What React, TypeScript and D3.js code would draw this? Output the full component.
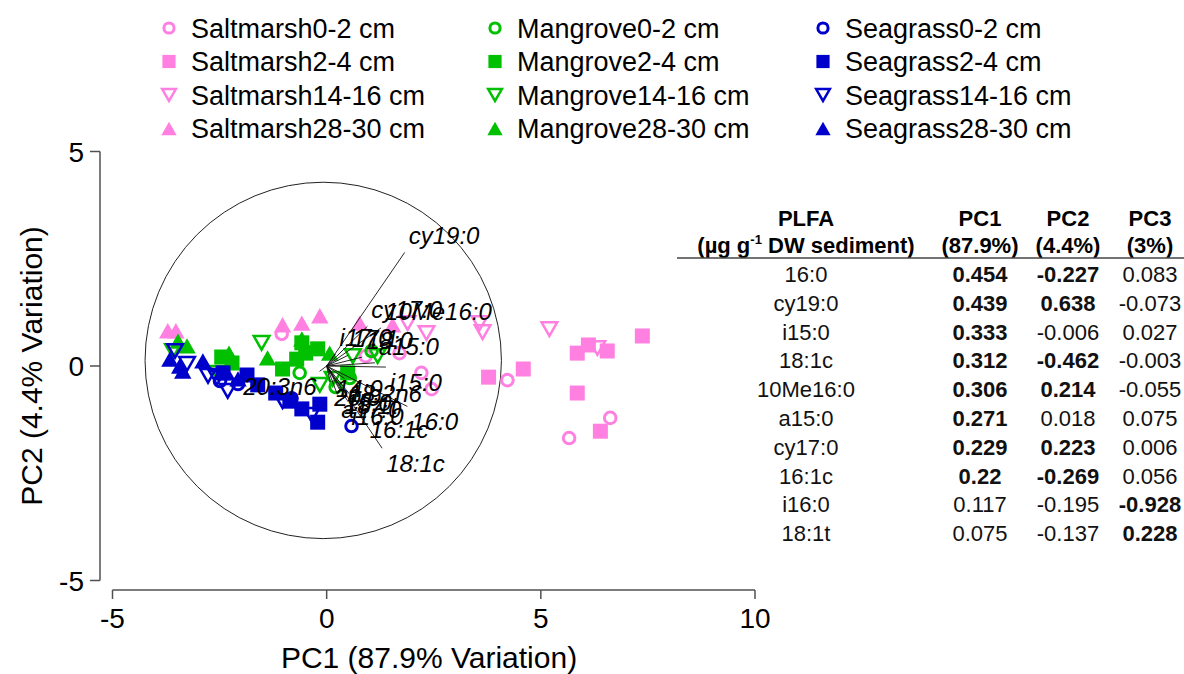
import React from "react";
import * as d3 from "d3";

const W = 1184;
const H = 674;

const habitats = ["Saltmarsh", "Mangrove", "Seagrass"];
const depths = ["0-2 cm", "2-4 cm", "14-16 cm", "28-30 cm"];
const habitatColors = ["#FF80E0", "#00C000", "#0000CC"];
const depthShapes = ["circle", "square", "triDown", "triUp"];

// PC scores [PC1, PC2]
const saltmarsh0_2 = [[-1.05, 0.75], [0.91, 0.23], [1.7, 0.3], [2.21, -0.16], [2.45, -0.54], [4.22, -0.33], [5.66, -1.68], [6.62, -1.21]];
const saltmarsh2_4 = [[3.78, -0.26], [4.59, -0.07], [5.85, 0.3], [6.11, 0.49], [6.55, 0.35], [7.37, 0.7], [5.85, -0.63], [6.39, -1.52]];
const saltmarsh14_16 = [[1.89, 1.0], [2.33, 0.77], [3.57, 1.0], [3.64, 0.79], [5.2, 0.86], [6.32, 0.42]];
const saltmarsh28_30 = [[-3.71, 0.82], [-3.52, 0.82], [-1.03, 0.96], [-0.58, 1.0], [-0.16, 1.17], [0.77, 1.0], [1.54, 0.96]];
const mangrove0_2 = [[-0.63, -0.16], [0.54, -0.28], [1.05, 0.35], [0.21, -0.49]];
const mangrove2_4 = [[-2.45, 0.21], [-2.21, 0.07], [-1.03, -0.07], [-0.7, 0.16], [-0.58, 0.54], [-0.49, 0.3], [0.49, -0.16], [-0.21, 0.4]];
const mangrove14_16 = [[-3.59, 0.35], [-2.54, -0.16], [-1.52, 0.54], [-0.16, -0.44], [0.61, 0.23], [1.19, 0.23], [0.14, -0.3]];
const mangrove28_30 = [[-3.47, 0.58], [-3.26, 0.47], [-2.28, 0.3], [-1.38, 0.19], [-0.58, 0.63], [0.07, 0.3]];
const seagrass0_2 = [[-2.49, -0.35], [-2.07, -0.42], [-0.82, -0.75], [0.58, -1.4]];
const seagrass2_4 = [[-2.42, -0.16], [-1.86, -0.21], [-1.61, -0.44], [-1.19, -0.63], [-0.86, -0.82], [-0.58, -1.0], [-0.16, -0.89], [-0.21, -1.31]];
const seagrass14_16 = [[-3.54, 0.35], [-3.26, 0.05], [-2.77, -0.23], [-2.56, -0.28], [-2.31, -0.58], [-1.03, -0.82], [-0.35, -1.14]];
const seagrass28_30 = [[-3.66, 0.16], [-3.43, 0.0], [-3.36, -0.12], [-2.89, 0.12], [-2.33, -0.16], [-2.07, -0.3]];

const scoreSets = [
  [saltmarsh0_2, saltmarsh2_4, saltmarsh14_16, saltmarsh28_30],
  [mangrove0_2, mangrove2_4, mangrove14_16, mangrove28_30],
  [seagrass0_2, seagrass2_4, seagrass14_16, seagrass28_30],
];

// Table loadings
const plfaNames = ["16:0", "cy19:0", "i15:0", "18:1c", "10Me16:0", "a15:0", "cy17:0", "16:1c", "i16:0", "18:1t"];
const pc1Loadings = [0.454, 0.439, 0.333, 0.312, 0.306, 0.271, 0.229, 0.22, 0.117, 0.075];
const pc2Loadings = [-0.227, 0.638, -0.006, -0.462, 0.214, 0.018, 0.223, -0.269, -0.195, -0.137];
const pc3Loadings = [0.083, -0.073, 0.027, -0.003, -0.055, 0.075, 0.006, 0.056, -0.928, 0.228];

// Other PLFAs shown only in the biplot (small loadings)
const extraNames = ["20:3n6", "i17:0", "17:1", "14:0", "15:0", "20:0", "18:2n6", "a17:0", "18:0"];
const extraPC1 = [-0.04, 0.05, 0.12, 0.03, 0.08, 0.02, 0.1, 0.06, 0.2];
const extraPC2 = [-0.03, 0.067, 0.06, -0.04, -0.12, -0.09, -0.07, -0.16, 0.05];

const xTicks = [-5, 0, 5, 10];
const yTicks = [-5, 0, 5];
const loadingScale = 4.15;
const circleRadius = 4.16;
const circleCenter = [-0.08, 0.13];

const tableHeaders = ["PC1", "PC2", "PC3"];
const tableSubHeaders = ["(87.9%)", "(4.4%)", "(3%)"];

const FONT = "'Liberation Sans', Arial, Helvetica, sans-serif";

function Marker({ shape, cx, cy, color, s }: { shape: string; cx: number; cy: number; color: string; s: number }) {
  if (shape === "circle") {
    return <circle cx={cx} cy={cy} r={5.8 * s} fill="none" stroke={color} strokeWidth={3} />;
  }
  if (shape === "square") {
    const h = 7.5 * s;
    return <rect x={cx - h} y={cy - h} width={2 * h} height={2 * h} fill={color} />;
  }
  if (shape === "triDown") {
    const hw = 7.8 * s;
    const hh = 6.8 * s;
    const pts = `${cx - hw},${cy - hh} ${cx + hw},${cy - hh} ${cx},${cy + hh}`;
    return <polygon points={pts} fill="none" stroke={color} strokeWidth={2.5} strokeLinejoin="miter" />;
  }
  const hw = 8.7 * s;
  const hh = 7.7 * s;
  const pts = `${cx - hw},${cy + hh} ${cx + hw},${cy + hh} ${cx},${cy - hh}`;
  return <polygon points={pts} fill={color} />;
}

export default function App() {
  const x = d3.scaleLinear().domain([-5, 10]).range([112.5, 755]);
  const y = d3.scaleLinear().domain([-5, 5]).range([580.5, 151.5]);
  const axisColor = "#505050";

  const arrows = [
    ...plfaNames.map((n, i) => ({ name: n, a: pc1Loadings[i], b: pc2Loadings[i] })),
    ...extraNames.map((n, i) => ({ name: n, a: extraPC1[i], b: extraPC2[i] })),
  ];

  const rowY = d3.range(plfaNames.length).map((i) => 282 + i * 28.8);
  const colX = [806, 980, 1068, 1150];
  const loadCols = [pc1Loadings, pc2Loadings, pc3Loadings];

  return (
    <svg width={W} height={H} style={{ position: "absolute", left: 0, top: 0, background: "#fff" }} fontFamily={FONT}>
      <rect x={0} y={0} width={W} height={H} fill="#fff" />
      {/* Legend */}
      {habitats.map((h, hi) =>
        depths.map((d, di) => {
          const lx = [169, 495, 823][hi];
          const ly = 28 + di * 33.5;
          return (
            <g key={`lg-${hi}-${di}`}>
              <Marker shape={depthShapes[di]} cx={lx} cy={ly} color={habitatColors[hi]} s={0.88} />
              <text x={lx + 22} y={ly + 9.5} fontSize={27} fill="#000">
                {h + d}
              </text>
            </g>
          );
        })
      )}

      {/* Y axis */}
      <line x1={100} x2={100} y1={y(5)} y2={y(-5)} stroke={axisColor} strokeWidth={1.5} />
      {yTicks.map((t) => (
        <g key={`yt${t}`}>
          <line x1={90} x2={100} y1={y(t)} y2={y(t)} stroke={axisColor} strokeWidth={1.5} />
          <text x={84} y={y(t) + 10} fontSize={28} textAnchor="end" fill="#000">
            {t}
          </text>
        </g>
      ))}
      {/* X axis */}
      <line x1={x(-5)} x2={x(10)} y1={590} y2={590} stroke={axisColor} strokeWidth={1.5} />
      {xTicks.map((t) => (
        <g key={`xt${t}`}>
          <line x1={x(t)} x2={x(t)} y1={590} y2={599} stroke={axisColor} strokeWidth={1.5} />
          <text x={x(t)} y={628} fontSize={28} textAnchor="middle" fill="#000">
            {t}
          </text>
        </g>
      ))}
      <text x={429} y={668} fontSize={30} textAnchor="middle" fill="#000">
        PC1 (87.9% Variation)
      </text>
      <text transform={`translate(31,${y(0)}) rotate(-90)`} fontSize={30} textAnchor="middle" dominantBaseline="central" fill="#000">
        PC2 (4.4% Variation)
      </text>

      {/* Correlation circle */}
      <circle
        cx={x(circleCenter[0])}
        cy={y(circleCenter[1])}
        r={x(circleRadius) - x(0)}
        fill="none"
        stroke="#222"
        strokeWidth={1}
      />

      {/* Points */}
      {scoreSets.map((set, hi) =>
        set.map((pts, di) =>
          pts.map((p, k) => (
            <Marker key={`p-${hi}-${di}-${k}`} shape={depthShapes[di]} cx={x(p[0])} cy={y(p[1])} color={habitatColors[hi]} s={1} />
          ))
        )
      )}

      {/* Loadings */}
      {arrows.map((ar) => {
        const tx = x(ar.a * loadingScale);
        const ty = y(ar.b * loadingScale);
        return (
          <line key={`al-${ar.name}`} x1={x(0)} y1={y(0)} x2={tx} y2={ty} stroke="#111" strokeWidth={0.9} />
        );
      })}
      {arrows.map((ar) => {
        const tx = x(ar.a * loadingScale);
        const ty = y(ar.b * loadingScale);
        const right = ar.a >= 0;
        const up = ar.b >= 0;
        return (
          <text
            key={`at-${ar.name}`}
            x={right ? tx + 4 : tx - 3}
            y={up ? ty - 8 : ty + 24}
            fontSize={24}
            fontStyle="italic"
            textAnchor={right ? "start" : "end"}
            fill="#000"
          >
            {ar.name}
          </text>
        );
      })}

      {/* Table */}
      <text x={colX[0]} y={226} fontSize={22} fontWeight="bold" textAnchor="middle">PLFA</text>
      <text x={colX[0]} y={253} fontSize={22} fontWeight="bold" textAnchor="middle">
        <tspan>(µg g</tspan>
        <tspan dy={-9} fontSize={13}>-1</tspan>
        <tspan dy={9}> DW sediment)</tspan>
      </text>
      {tableHeaders.map((hd, i) => (
        <g key={`th${i}`}>
          <text x={colX[i + 1]} y={226} fontSize={22} fontWeight="bold" textAnchor="middle">{hd}</text>
          <text x={colX[i + 1]} y={253} fontSize={22} fontWeight="bold" textAnchor="middle">{tableSubHeaders[i]}</text>
        </g>
      ))}
      <line x1={677} x2={1184} y1={258} y2={258} stroke="#444" strokeWidth={1.5} />
      {plfaNames.map((n, r) => (
        <g key={`tr${r}`}>
          <text x={colX[0]} y={rowY[r]} fontSize={22} textAnchor="middle" fill="#111">{n}</text>
          {loadCols.map((col, c) => (
            <text
              key={`tc${r}-${c}`}
              x={colX[c + 1]}
              y={rowY[r]}
              fontSize={22}
              textAnchor="middle"
              fontWeight={Math.abs(col[r]) > 0.2 ? "bold" : "normal"}
              fill="#111"
            >
              {String(col[r])}
            </text>
          ))}
        </g>
      ))}
    </svg>
  );
}
